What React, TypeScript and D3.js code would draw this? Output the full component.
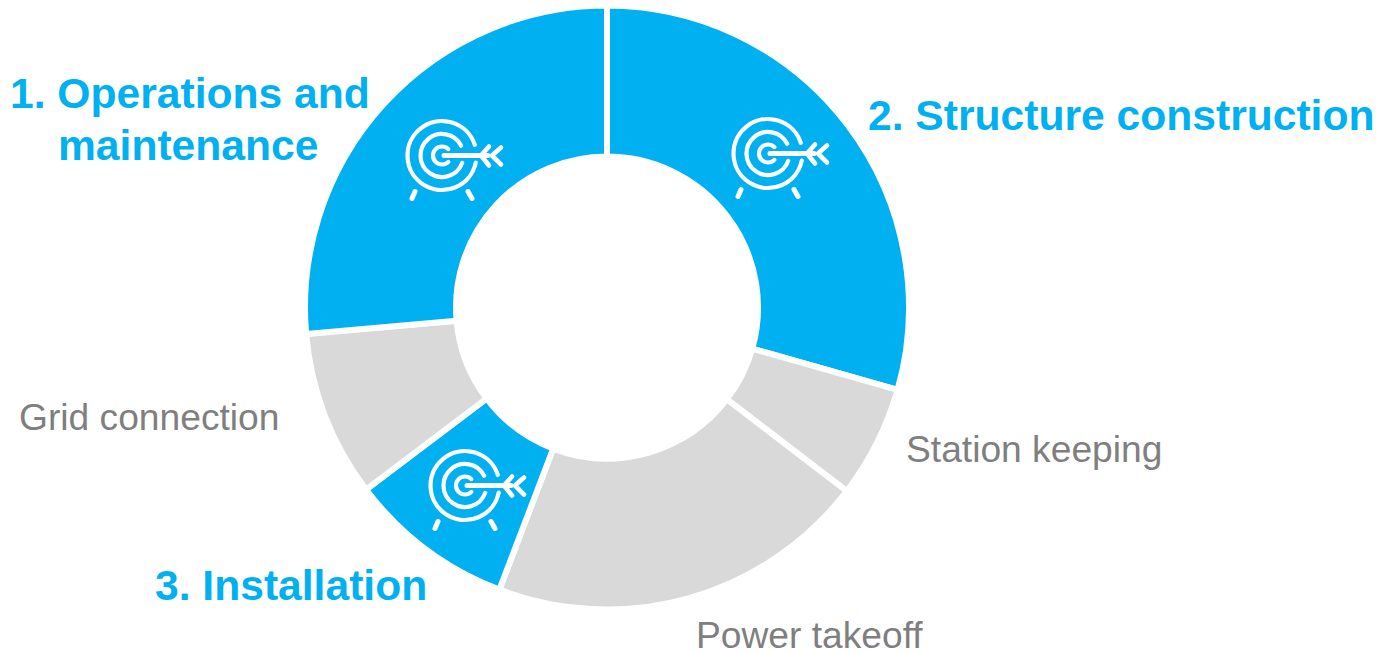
import React from "react";
import * as d3 from "d3";

const categories = ["Structure construction", "Station keeping", "Power takeoff", "Installation", "Grid connection", "Operations and maintenance"];
const shares = [29.4, 6.0, 20.4, 8.9, 8.9, 26.4];
const highlighted = [true, false, false, true, false, true];

const width = 1386;
const height = 652;
const BLUE = "#00B0F0";
const GREY = "#D9D9D9";
const TEXT_GREY = "#7F7F7F";

const targetIcons: [number, number][] = [[442, 155.5], [768, 153.5], [465, 485.5]];

const boldLabels = [
  { text: "1. Operations and", x: 10, y: 108 },
  { text: "maintenance", x: 58, y: 160 },
  { text: "2. Structure construction", x: 868, y: 130 },
  { text: "3. Installation", x: 155, y: 600 },
];
const plainLabels = [
  { text: "Grid connection", x: 19, y: 430 },
  { text: "Station keeping", x: 906, y: 462 },
  { text: "Power takeoff", x: 696, y: 648 },
];

// Partial ring as an SVG path, angles in degrees clockwise from 3 o'clock.
function ringArc(r: number, fromDeg: number, toDeg: number) {
  const p = d3.path();
  p.arc(0, 0, r, (fromDeg * Math.PI) / 180, (toDeg * Math.PI) / 180);
  return p.toString();
}

function TargetIcon({ x, y }: { x: number; y: number }) {
  return (
    <g transform={`translate(${x},${y})`} fill="none" stroke="#fff" strokeWidth={4.2} strokeLinecap="round" strokeLinejoin="round">
      <path d={ringArc(34.5, 12, 342)} />
      <path d={ringArc(21.5, 20, 333)} />
      <path d={ringArc(9, 45, 315)} />
      <path d="M2,0H46" strokeWidth={5} />
      <path d="M47,-9L39,0L47,10M59,-8L50,0L59,9" strokeWidth={4.6} />
      <path d="M-27,36L-30,43M26,36L30,43" strokeWidth={5} />
    </g>
  );
}

export default function App() {
  const pie = d3.pie<number>().sort(null)(shares);
  const arc = d3.arc<d3.PieArcDatum<number>>().innerRadius(151).outerRadius(302);
  return (
    <svg width={width} height={height} style={{ position: "absolute", left: 0, top: 0 }} fontFamily="'Liberation Sans', Arial, sans-serif">
      <rect width={width} height={height} fill="#fff" />
      <g transform="translate(607,307.5)">
        {pie.map((slice, i) => (
          <path key={categories[i]} d={arc(slice) ?? ""} fill={highlighted[i] ? BLUE : GREY} stroke="#fff" strokeWidth={6} />
        ))}
      </g>
      {targetIcons.map(([x, y]) => (
        <TargetIcon key={`${x}-${y}`} x={x} y={y} />
      ))}
      {boldLabels.map((l) => (
        <text key={l.text} x={l.x} y={l.y} fontSize={42.6} fontWeight={700} fill={BLUE}>{l.text}</text>
      ))}
      {plainLabels.map((l) => (
        <text key={l.text} x={l.x} y={l.y} fontSize={37.2} fill={TEXT_GREY}>{l.text}</text>
      ))}
    </svg>
  );
}
